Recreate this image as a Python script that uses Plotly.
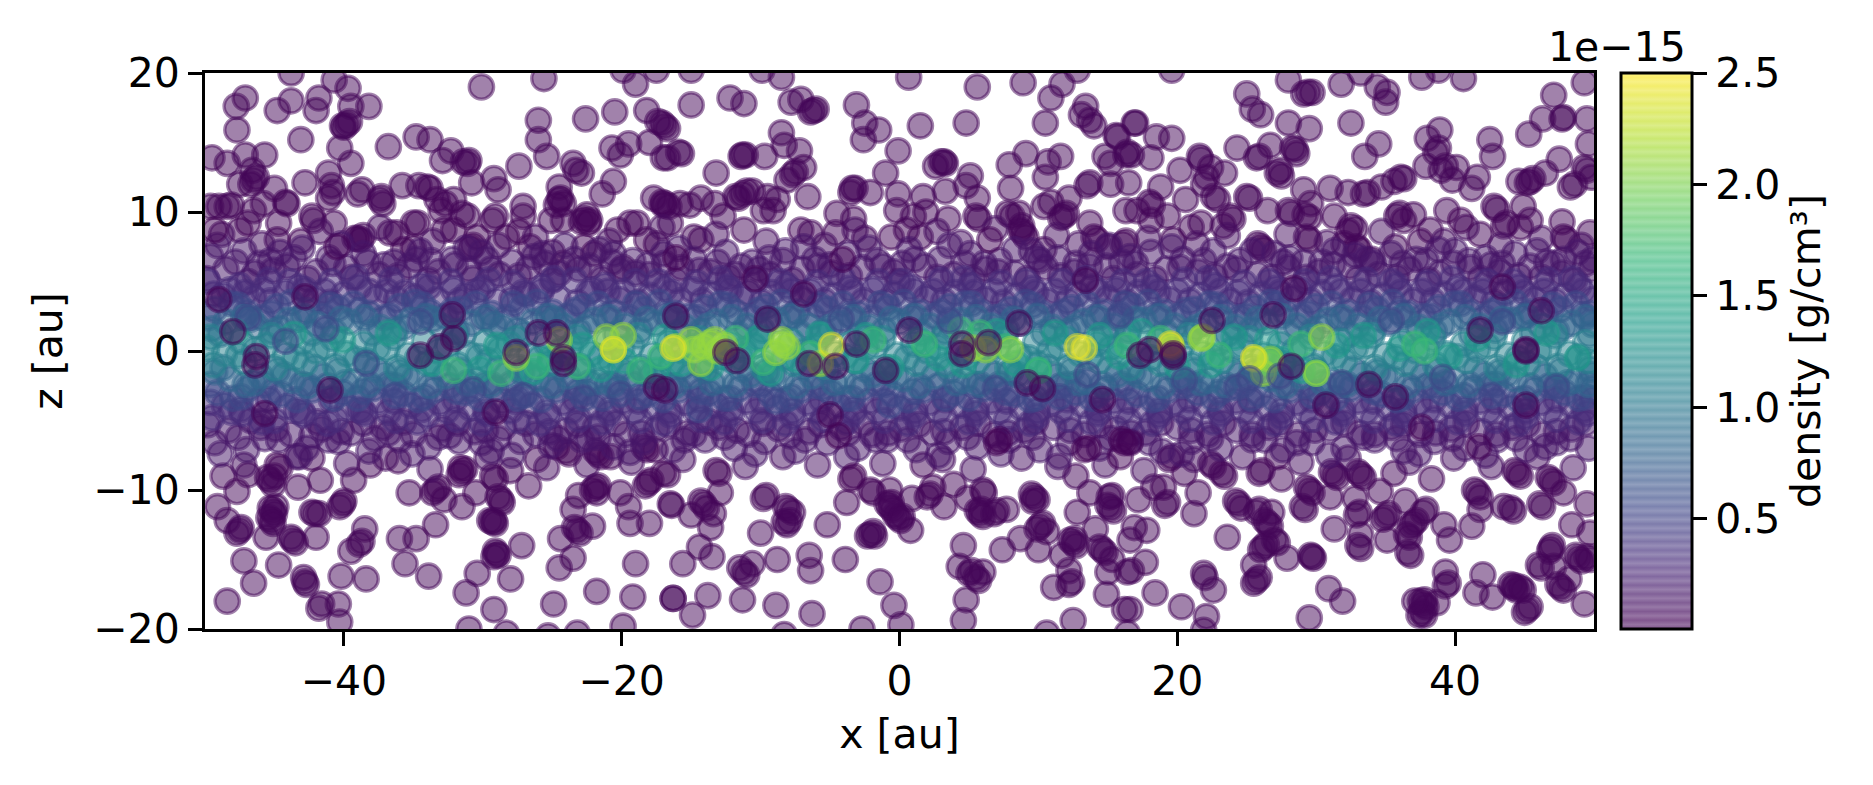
import plotly.graph_objects as go
from plotly.colors import sequential, hex_to_rgb, sample_colorscale, unlabel_rgb

# Particle positions (x, z) in au, grouped by density (units of 1e-15 g/cm3).
halo_upper_left = [(-47.1,18.2),(-47.75,17.6),(-47.7,15.9),(-44.8,17.3),(-43.8,18),(-43.8,20),(-41.8,18.2),(-42,17.3),(-40.7,19.5),(-39.7,18.9),(-38.2,17.6),(-39.5,17.6),(-39.8,16.3),(-40,16.1),(-39.6,16.5),(-40.1,16.2),(-43.1,15.2),(-40.3,14.6),(-36.8,14.7),(-34.8,15.4),(-33.8,15.2),(-30.1,19),(-25.6,19.6),(-19,19.2),(-19.9,20.2),(-17.5,20.2),(-26,16.6),(-22.6,16.7),(-20.5,17.2),(-18.2,17.3),(-17.1,16.4),(-17.4,16.5),(-26,15.2),(-25.4,14),(-27.4,13.3),(-20.7,14.6),(-20.1,14.1),(-19.5,14.9),(-18,15),(-17,13.9),(-23.5,13.5),(-22.9,12.8),(-23.3,13),(-24.5,11.8),(-20.6,12.2),(-21.4,11.3),(-17.7,11),(-17.1,10.7),(-17,10.5),(-32.3,14.4),(-32.9,13.7),(-31.4,13.6),(-31,13.7),(-31.1,13.5),(-29.2,12.4),(-28.9,11.6),(-30.8,12.1),(-49.5,13.9),(-48.4,13.5),(-47.1,14.1),(-45.7,14.1),(-46.6,13),(-46.5,12.3),(-46.7,12),(-46.3,12.5),(-47.5,12),(-42.8,12.1),(-45,11.7),(-44.2,10.7),(-44.1,10.6),(-41.1,12.8),(-39.5,13.5),(-40.9,11.9),(-40.8,11.4),(-41.1,11),(-38.7,11.6),(-39,11.3),(-35.8,11.9),(-34.6,11.9),(-34,11.8),(-33.8,11.7),(-37.3,11.1),(-37.2,10.6),(-37.4,10.9),(-33.3,10.9),(-32.7,10.6),(-33,10.1),(-32.1,10.9),(-31.1,9.7),(-29.3,9.4),(-29.1,9.7),(-27.1,10.4),(-27.1,9.7),(-24.5,10.9),(-24.2,10.6),(-24.7,10.5),(-24.4,11),(-22.7,9.5),(-22.5,9.8),(-22.9,9.3),(-22.4,9.2),(-49,10.4),(-48.4,10.4),(-48.1,10.5),(-49.6,10.4),(-46.5,10.1),(-45.8,10.6),(-44.7,9.2),(-42.2,9.4),(-42.3,9.7),(-40.7,9.2),(-46.9,9.2),(-47.5,8.7),(-38.8,8),(-38.6,8.3),(-39,8.1),(-39.2,8.1),(-43.1,7.9),(-44.8,8),(-36.7,8.5),(-36.2,8.5),(-35.7,7.3),(-35,7.4),(-34.7,9.2),(-35,9.2),(-30.9,7.4),(-30.7,7.6),(-32.8,8.7),(-32.1,8.7),(-31.5,9.9),(-30.4,8.2),(-28.3,8.2),(-27.4,8.6),(-26.6,7.5),(-25,7.1),(-24.2,6.3),(-25.1,9.4),(-24.2,9.4),(-22.3,9.4),(-22,7),(-22.7,7.5),(-20.3,8.7),(-19.4,9.2),(-18.9,9.2),(-18.2,8),(-17.5,7.7),(-19.9,6)]
halo_upper_mid = [(-15,20.2),(-9.9,20.2),(-8.5,19.7),(0.66,19.7),(5.6,19),(8.9,19.3),(11.7,19.2),(12.8,20.2),(-15,17.7),(-12.2,18.2),(-11.2,17.8),(-7.8,17.9),(-7.1,18.1),(-6.2,17.3),(-6,17.4),(-6.4,17.2),(-3.1,17.7),(1.5,16.2),(4.8,16.4),(10.5,16.4),(10.9,18.2),(13.4,17.6),(13.1,17),(13.7,16.6),(14,16.2),(16.9,16.4),(15.6,15.5),(15.7,15.4),(16.3,14.1),(14.8,14),(15.2,13.5),(16.4,14.3),(-16.9,16.2),(-16.7,16),(-15.9,14.3),(-15.7,14.2),(-16.7,13.9),(-11.3,14.1),(-11.1,14.1),(-11.4,14),(-9.7,14),(-8.5,15.7),(-8.3,14.8),(-7.2,14.4),(-6.9,13.2),(-7.7,12.7),(-7.5,12.9),(-8.1,12.3),(-13.2,12.8),(-6.6,11.1),(-2.5,16.4),(-1.5,15.9),(-2.6,15.2),(-0.1,14.4),(-1,12.8),(3.2,13.6),(3,13.6),(3.3,13.5),(2.6,13.3),(5.1,12.6),(4.8,11.9),(3.3,11.5),(5.6,11),(7.9,13.4),(9.1,14.2),(10.7,13.6),(11.6,14),(10.5,12.5),(8,11.7),(13.7,12.1),(13.5,11.9),(15.2,12),(16.5,12.1),(-3.4,11.7),(-3.2,11.7),(-3.5,11.4),(-2.1,11.4),(-0.1,11.3),(1.7,11.1),(-14.3,11),(-15.8,10.6),(-16.9,10.6),(-16.6,10.4),(-15.1,10.5),(-11.8,11.1),(-11,11.5),(-11.6,11),(-11.3,11.3),(-10.6,11.5),(-9.5,11.1),(-8.8,10.9),(-13.3,10.6),(-12.7,9.7),(-9.8,10.1),(-9.1,10.1),(-4.5,9.9),(-3.3,9.5),(-0.2,10.1),(1.9,10),(1,9.7),(3.5,9.5),(5.7,9.5),(5.5,9.7),(7.8,9.9),(8.1,9.7),(8.6,9.9),(8.8,9),(10.4,10.4),(10.9,10.7),(12.2,11),(11.8,9.7),(12,9.9),(11.6,9.6),(13.7,9.2),(16.3,10.1),(17.1,10.1),(-14.8,8.2),(-14.3,8),(-11.2,8.7),(-16.5,9.2),(-7.1,8.7),(-6.4,8.5),(-4.6,8.5),(-2.5,8.1),(-0.6,8.2),(0.5,8.7),(1.5,8.2),(8.9,8.5),(9.1,8.2),(8.7,8.7),(10.4,7.3),(14,8.2),(14.2,8),(16.1,7.7),(16.3,7.9),(15,7.5)]
halo_upper_right = [(19.6,20.2),(25,18.5),(25.4,17.4),(26,17),(28,19.5),(29.1,18.5),(29.4,18.6),(29.7,18.6),(31.8,19.2),(33.2,20),(34.4,19),(35.1,18.6),(35,17.9),(37.6,19.7),(40.6,19.6),(38.8,20.2),(32.5,16.4),(34.5,14.9),(33.5,14),(28,16.4),(29.5,16),(17,16.4),(18.5,15.4),(19.6,15.3),(18.1,13.9),(16.7,14.1),(20.2,13),(21.6,14),(21.7,13.8),(24.3,14.6),(26.7,14.8),(25.7,13.9),(25.9,14),(28.3,14.6),(28.5,14.5),(28.6,14.2),(27.2,12.8),(27.5,12.6),(27.4,13),(22.4,13.2),(23.4,12.8),(22.1,12.5),(38,15.3),(38.9,15.9),(38.8,14.6),(38.6,14.3),(37.9,13.3),(39.3,13.3),(39,13),(40.1,13.2),(42.5,15.2),(42.7,14),(47.1,18.4),(49.3,19.3),(45.3,15.6),(46.3,16.7),(47.8,16.8),(47.7,16.7),(49.5,16.7),(49.6,14.9),(47.5,13.8),(46.5,12.8),(45.4,12.2),(45.6,12.4),(45.2,12.1),(44.6,12.2),(48.3,11.8),(48.6,12),(49.3,13.2),(49.5,13),(49.8,12.5),(36.3,12.4),(36.1,12.5),(35.6,12.2),(41.6,12.5),(41.2,11.7),(39.8,12.3),(34.7,11.8),(33.4,11.3),(33.7,11.4),(32.3,11.4),(31,11.7),(29.1,11.6),(25,11.1),(25.2,11),(22.6,11.1),(21.9,12),(22.9,10.9),(18.8,11.8),(20.6,10.9),(18,10.7),(18.2,10.5),(42.8,10.4),(43,10.2),(44.9,10.4),(37,9.8),(35.8,9.7),(36,9.9),(36.3,9.4),(39.4,10.1),(43.5,9),(43.7,9.2),(45.4,9.4),(47.7,9.3),(29.6,10.6),(28,10.1),(28.2,9.9),(26.5,10.1),(29.2,9.8),(29.5,9.6),(31.3,9.7),(23.8,9.7),(24,9.5),(23.3,9),(21.7,9.2),(21,8.9),(19.3,9.7),(18.1,9.4),(19.7,8),(26,7.5),(25.8,7.7),(26.2,7.3),(29.3,8.2),(29.5,8),(35.7,7.5),(37.5,7.9),(38.2,8.7),(41.8,8.4),(44.7,8.9),(49.7,8.5),(32.5,9),(32.8,8.8),(32.3,8.6),(32.9,7.5),(33.1,7.3),(32,7.7),(34,6.6),(47.8,8.2),(48,8)]
halo_lower_left = [(-48.4,-18),(-46.5,-16.7),(-47.2,-15.1),(-44.7,-15.4),(-42.8,-16.6),(-42.9,-16.3),(-42.7,-16.8),(-41.6,-18.2),(-41.8,-18.5),(-40.4,-18.2),(-40.3,-19.5),(-40.2,-16.2),(-38.4,-16.4),(-39.5,-14.4),(-38.7,-13.7),(-38.9,-13.9),(-38.5,-12.8),(-42,-13.4),(-43.7,-13.6),(-43.8,-13.4),(-43.5,-13.8),(-45.6,-13.4),(-47.5,-12.9),(-47.7,-13.1),(-47.4,-12.7),(-48.4,-12.2),(-45.1,-11.5),(-45.3,-11.3),(-45,-11.7),(-44.9,-11.2),(-45.2,-12.2),(-45.4,-12),(-45.1,-12.4),(-49.1,-11.2),(-47.7,-10.1),(-48.7,-9),(-46.9,-8.9),(-45.3,-9.3),(-45.5,-9.1),(-45.1,-9.6),(-45,-9),(-44.8,-8.2),(-44.6,-8.4),(-43.3,-9.8),(-41.7,-9.3),(-39.3,-9.3),(-38.1,-8.2),(-42.1,-11.7),(-42.3,-11.6),(-41.8,-11.7),(-40.1,-11),(-40.3,-11.2),(-40,-10.8),(-42.3,-7.7),(-36.1,-7.9),(-35.3,-10.2),(-33.4,-10),(-33.6,-10.2),(-33.2,-9.8),(-32.8,-10.7),(-31.5,-11.2),(-33.4,-12.5),(-36,-13.5),(-34.8,-13.5),(-35.6,-15.3),(-33.9,-16.2),(-30.4,-16),(-28,-16.4),(-31.2,-17.4),(-29.2,-18.6),(-31,-20),(-28.3,-20.3),(-27.2,-14),(-29,-14.6),(-29.1,-14.4),(-28.9,-14.7),(-29.2,-14.8),(-29.3,-12.3),(-29.5,-12.2),(-29.1,-12.4),(-29.2,-12.2),(-28.7,-10.7),(-28.9,-10.5),(-28.6,-10.9),(-29.3,-9),(-29.1,-9.2),(-26.7,-9.7),(-28,-8.6),(-31.5,-8.7),(-31.7,-8.9),(-31.3,-8.5),(-31.6,-8.4),(-30.5,-10.2),(-26.1,-7.8),(-24.4,-13.5),(-23.2,-12.9),(-23.4,-12.7),(-23,-13.1),(-22.1,-12.6),(-23.5,-11.4),(-23.5,-14.9),(-24.5,-15.6),(-24.9,-18.2),(-21.8,-17.3),(-19.2,-17.7),(-19,-15.3),(-16.3,-17.8),(-19.9,-19.8),(-23.2,-20.3),(-25.3,-20.5),(-19.4,-12.4),(-18,-12.4),(-19.5,-11.2),(-21.9,-9.8),(-21.7,-9.7),(-22.1,-10),(-21.8,-10.2),(-23.1,-10.4),(-20.1,-10.2),(-18.1,-9.5),(-18.3,-9.7),(-17.9,-9.3),(-16.5,-11),(-17,-8.8),(-24.7,-6.9),(-23.8,-7.4),(-24,-7.2),(-21.7,-7.4),(-21.5,-7.6),(-21.9,-7.2),(-20.8,-7.6),(-18.4,-6.9),(-18.2,-7.1),(-17.6,-7.1)]
halo_lower_mid = [(-16.4,-11.1),(-15,-11.8),(-14.1,-11),(-14.3,-10.8),(-13.9,-11.3),(-13.4,-11.7),(-13.6,-12.7),(-14.4,-14.1),(-13.5,-14.8),(-15.6,-15.3),(-11.5,-15.6),(-10.6,-15.3),(-11,-16.1),(-11.2,-15.9),(-8.8,-15),(-6.5,-14.7),(-6.4,-15.8),(-3.9,-15),(-1.4,-16.6),(-0.4,-18.3),(0.1,-19.7),(-2.7,-20),(-6.3,-18.9),(-8.9,-18.3),(-11.3,-17.9),(-13.8,-17.6),(-16.3,-17.8),(-14.9,-19),(-8.3,-20.4),(-10,-13.1),(-5.2,-12.5),(-8.1,-12.5),(-8.3,-12.3),(-7.9,-12.2),(-8,-11.4),(-8.2,-11.2),(-7.7,-11.6),(-9.8,-10.6),(-9.6,-10.4),(-12.9,-10.2),(-13,-8.8),(-13.2,-8.6),(-16.7,-8.9),(-3.8,-10.9),(-2.1,-13.2),(-2.3,-13.3),(-1.9,-13),(-1.8,-13.3),(-0.7,-11.2),(-0.9,-11),(-0.5,-11.4),(-0.6,-10.9),(-0.1,-12),(-0.3,-11.8),(0.1,-12.2),(0.2,-11.9),(0.8,-12.9),(-2.1,-10),(-1.9,-10.2),(-0.7,-10),(0.9,-10.6),(1.7,-8.2),(2,-10.5),(2.2,-10.3),(3.2,-11.2),(2.4,-9.8),(3.9,-9.6),(4.9,-10.6),(6,-10),(5.8,-11.7),(5.6,-11.5),(6,-11.9),(5.9,-11.4),(6.8,-11.7),(7,-11.5),(7.7,-11.4),(9.7,-10.5),(9.5,-10.3),(9.9,-10.7),(9.6,-10.8),(7.4,-14.3),(8.7,-13.5),(10.1,-12.6),(10.3,-12.4),(9.9,-12.8),(10,-14.3),(10.6,-13),(11.7,-14.7),(12.5,-13.8),(12.3,-13.6),(12.7,-14),(12.6,-13.5),(12.8,-11.6),(14.1,-12.8),(14.6,-14.3),(14.4,-14.1),(14.8,-14.5),(15.3,-15),(15,-15.9),(16.4,-15.9),(16.6,-13.6),(12.2,-15.8),(12.2,-16.8),(12.4,-16.6),(11.1,-17),(14.9,-17.5),(16.2,-18.6),(12.5,-19.4),(16.4,-20.3),(10.6,-20.3),(4.6,-14),(4.3,-15.5),(5,-16),(5.2,-15.8),(6,-15.9),(5.7,-16.5),(5.5,-16.3),(4.8,-17.9),(4.6,-19.4),(13.7,-10.2),(15.2,-11.3),(15,-11.1),(15.4,-11.5),(15.1,-10.5),(15.3,-10.4),(12.7,-9),(6.1,-10.2)]
halo_lower_right = [(18.4,-17.4),(20.3,-18.4),(22.1,-19.1),(21.9,-20.1),(21.9,-16),(22,-16.3),(22.6,-17.2),(23.6,-13.4),(17.7,-15.2),(16.6,-18.6),(16.7,-15.8),(17.8,-12.9),(16.9,-12.7),(25.7,-16.5),(25.5,-16.7),(25.9,-16.3),(25.5,-15.4),(26.2,-14.1),(26,-14.3),(26.4,-13.9),(27.2,-13.8),(27,-13.6),(27.9,-14.9),(29.7,-14.8),(29.6,-14.7),(29.8,-14.9),(30.9,-17.1),(31.9,-18),(29.5,-19.2),(26.5,-12.4),(26.3,-12.2),(26.7,-12.6),(25.7,-11.6),(25.9,-11.4),(26.8,-11.6),(19.1,-11.1),(19.3,-10.9),(21.2,-11.7),(21.5,-10.2),(17.2,-10.7),(18.3,-9.8),(24.4,-11),(24.2,-10.8),(24.6,-11.3),(31.3,-12.8),(33.2,-14.2),(33,-14),(33.2,-13.2),(35.1,-13.6),(36.8,-14.7),(36.6,-14.5),(36.7,-13.4),(36.5,-13.2),(32.9,-11.8),(33.1,-11.6),(32.8,-10.6),(35,-11.9),(35.2,-11.7),(34.8,-12.1),(34.6,-10.1),(36.4,-10.8),(37,-12.4),(37.2,-12.2),(36.8,-12.6),(37.7,-11.6),(37.9,-11.4),(39.2,-12.5),(39.6,-13.6),(41.2,-12.6),(39.3,-15.9),(39.3,-16.9),(39.5,-16.7),(37.7,-18.2),(37.5,-18),(37.9,-18.4),(37.8,-17.9),(37.6,-18.8),(37.4,-19),(37.8,-19),(38.7,-18.1),(37.1,-18),(41.5,-17.4),(42,-16.1),(42.7,-17.7),(44.2,-17),(44,-16.8),(44.4,-17.2),(44.3,-16.9),(44.7,-17),(44.9,-17.2),(45.2,-18.6),(45,-18.8),(45.4,-18.4),(46,-15.4),(46.2,-15.6),(46.9,-14.2),(46.8,-14.4),(47,-14),(47.1,-15.5),(47.6,-17),(47.4,-16.8),(47.8,-17.2),(48.2,-16.4),(49.3,-18.2),(48.9,-14.9),(48.7,-14.7),(49.1,-15.1),(49.7,-15),(49.5,-14.8),(48.4,-12.5),(49.7,-13.1),(44,-11.3),(44.2,-11.5),(46.3,-11.2),(46.1,-11),(43.5,-11.2),(41.6,-10.2),(41.4,-10),(41.8,-10.5),(41.8,-11.4),(47.8,-10.2),(46.9,-9.3),(46.7,-9.1),(47.1,-9.5),(49.5,-11),(44.5,-8.8),(44.3,-8.6),(44.7,-9),(38.3,-9.2),(35.6,-8.8),(31.3,-8.9),(31.1,-8.7),(31.5,-9.1),(33.2,-8.9),(33,-8.7),(33.4,-9.1),(29.5,-10),(29.3,-9.8),(29.7,-10.2),(31,-10.5),(29.2,-11.4),(29,-11.2),(27.5,-9.2),(25.9,-8.8),(26.1,-8.6),(23.4,-9),(23.2,-8.8),(22.6,-8.3),(22.4,-8.1),(19,-9.8),(19.4,-7.8),(19.6,-7.6),(20.5,-8.8),(27.2,-7.6)]
halo_density = 0.03

outer_rim = [(-48.8,8.4),(-45.9,7.7),(-41.7,8.6),(-37.4,8.9),(-33.6,7.9),(-28.9,7.6),(-26.2,8.2),(-20.9,7.9),(-17.1,8.9),(-13.2,8.4),(-9.6,7.9),(-5.4,7.6),(-3.2,8.7),(2.7,8.6),(4.4,7.8),(6.9,8.8),(11.3,8.3),(12.9,7.7),(17.9,8.1),(21.4,7.7),(23.6,8.3),(27.9,8.4),(30.8,7.8),(34.7,8.6),(39.2,7.9),(40.8,8.9),(43.3,7.6),(46.2,8.1),(49.1,7.6),
(-47.2,-8.2),(-43.4,-7.6),(-39.8,-8.1),(-37,-7.7),(-33.8,-8.5),(-29.7,-7.7),(-25.4,-8.4),(-22.5,-8.2),(-19.3,-8),(-15.6,-7.8),(-11.1,-8.3),(-8.4,-7.6),(-5.9,-8.2),(-1.2,-8.1),(3.1,-7.8),(5.3,-8.5),(8.8,-7.7),(11.4,-8.3),(14.8,-8.2),(17.6,-8.6),(21.2,-7.8),(24.7,-7.6),(28.9,-8),(32.3,-7.7),(36.7,-8),(39.9,-7.7),(42.6,-8.3),(45.9,-7.6),(48.5,-8.4)]
outer_rim_density = 0.09

upper_rim = [(-49.6,6.8),(-47.2,7.2),(-45.3,6.5),(-43,7.4),(-41.1,6.7),(-38.6,7),(-36.4,6.4),(-34.5,7.2),(-32.2,6.6),(-30.1,7.1),(-27.9,6.4),(-25.7,7),(-23.4,6.6),(-21.6,7.3),(-19.2,6.5),(-17,7),(-14.8,6.6),(-12.5,7.1),(-10.6,6.4),(-8.2,7.2),(-6.1,6.6),(-3.7,7),(-1.6,6.5),(0.7,7.3),(2.9,6.6),(5.1,7),(7.2,6.5),(9.5,7.2),(11.4,6.7),(13.8,7),(16,6.4),(18.1,7.1),(20.4,6.6),(22.6,7.2),(24.5,6.5),(27,7),(29.1,6.4),(31.3,7.2),(33.6,6.6),(35.4,7),(37.9,6.5),(40,7.2),(42.2,6.7),(44.3,7),(46.6,6.4),(48.8,7.1),
(-48.5,5.9),(-46.4,5.6),(-44.1,6.1),(-42,5.7),(-39.8,6),(-37.5,5.5),(-35.3,6.1),(-33.2,5.7),(-31,5.9),(-28.8,5.5),(-26.7,6),(-24.5,5.6),(-22.3,6.1),(-20.1,5.8),(-18,5.5),(-15.7,6),(-13.6,5.7),(-11.4,6.1),(-9.3,5.5),(-7,5.9),(-4.9,5.6),(-2.7,6),(-0.4,5.7),(1.8,6.1),(3.9,5.5),(6.2,5.9),(8.3,5.6),(10.5,6),(12.6,5.7),(14.9,6.1),(17.1,5.5),(19.2,5.9),(21.5,5.7),(23.6,6.1),(25.8,5.5),(28,6),(30.2,5.7),(32.4,6.1),(34.5,5.5),(36.7,5.9),(38.9,5.6),(41.1,6),(43.2,5.7),(45.4,6.1),(47.7,5.6),(49.8,5.9),
(-49.1,7.6),(-46.1,6.3),(-44.6,7.1),(-40.2,7.7),(-37.1,6.2),(-33.7,6.5),(-31.2,7.4),(-29.4,5.9),(-26.3,6.8),(-24.1,7.6),(-20.7,6.4),(-18.1,6.2),(-15.9,7.4),(-13.1,6.4),(-11.8,5.5),(-9.4,6.7),(-6.9,7.5),(-5,6.2),(-2.2,7.4),(0.2,6.3),(3.6,7.6),(6.1,6.3),(8.3,7.3),(10.1,6.5),(12.7,6.3),(15.1,7.6),(17,6.3),(19.6,7.5),(21.9,6.5),(25.4,7.2),(28.1,6.7),(30.4,6.4),(32.8,6.9),(36.2,6.3),(38.8,7.3),(41,6.5),(43.4,6.3),(45.9,7.2),(47.8,6.6),(49.4,6.3),
(-49.9,5.2),(-47.8,6.4),(-46.9,5),(-45.1,5.8),(-43.6,6.7),(-42.6,5.2),(-40.8,6.3),(-39.4,5.3),(-38.3,6.4),(-36.1,5.4),(-34.8,6.6),(-33.9,5.1),(-32,6.2),(-30.7,5.2),(-29.7,6.6),(-27.4,5.4),(-25.5,6.3),(-25,5.1),(-23.1,5.9),(-21.4,5.2),(-20.6,7),(-19,5.6),(-16.9,6.3),(-16.1,5.1),(-14.4,5.8),(-12.3,5.3),(-10.1,5.9),(-8.4,6.5),(-7.7,5.1),(-5.8,6.1),(-3.6,5.4),(-1.2,6.1),(-0.1,5),(1.1,6.6),(2.7,5.3),(4.7,6.3),(5.3,5.2),(7.1,5.7),(9.2,5.2),(9.9,6.7),(11.6,5.4),(13.7,6.1),(15.4,5.2),(16.6,6.8),(18.4,5.2),(20.2,6),(22.7,5.4),(24.2,5.9),(26.8,5.3),(27.6,6.4),(29.3,5.3),(31.2,6.2),(33,5.2),(34.1,6.3),(35.8,5.3),(37.2,6.6),(38.1,5.1),(39.9,6.3),(41.8,5.2),(42.6,6.2),(44.6,5.4),(46.2,5.3),(47.1,6.3),(48.6,5.1),(49.9,6.6)]
lower_rim = [(-49.3,-6.6),(-47,-7.1),(-44.7,-6.4),(-42.7,-7),(-40.4,-6.5),(-38.2,-7.2),(-36,-6.4),(-33.9,-6.9),(-31.7,-6.5),(-29.4,-7.2),(-27.3,-6.5),(-25.1,-6.8),(-22.9,-6.4),(-20.6,-6.9),(-18.4,-6.5),(-16.3,-7.1),(-14,-6.4),(-11.9,-7),(-9.7,-6.5),(-7.5,-7.2),(-5.2,-6.6),(-3,-7),(-0.9,-6.4),(1.2,-7.1),(3.5,-6.5),(5.6,-6.9),(7.9,-6.4),(10.1,-7.1),(12.2,-6.6),(14.4,-7),(16.6,-6.5),(18.9,-7.2),(21,-6.5),(23.1,-7),(25.4,-6.4),(27.6,-7.1),(29.7,-6.6),(32,-7),(34.2,-6.4),(36.3,-7.2),(38.5,-6.5),(40.7,-7),(43,-6.4),(45.1,-7.1),(47.3,-6.6),(49.6,-7),
(-48.3,-5.7),(-46,-5.5),(-43.8,-6),(-41.6,-5.6),(-39.5,-5.9),(-37.2,-5.5),(-35,-6),(-32.9,-5.6),(-30.6,-5.8),(-28.5,-5.5),(-26.2,-6),(-24,-5.7),(-21.9,-5.5),(-19.7,-6),(-17.5,-5.6),(-15.3,-5.9),(-13,-5.5),(-10.9,-6),(-8.7,-5.6),(-6.5,-5.8),(-4.2,-5.5),(-2,-6),(0.1,-5.6),(2.4,-5.9),(4.5,-5.5),(6.8,-6),(9,-5.7),(11.1,-5.5),(13.3,-6),(15.6,-5.6),(17.7,-5.9),(20,-5.5),(22.2,-6),(24.3,-5.7),(26.6,-5.5),(28.7,-6),(31,-5.6),(33.1,-5.9),(35.4,-5.5),(37.5,-6),(39.7,-5.6),(41.9,-5.8),(44.1,-5.5),(46.3,-6),(48.4,-5.6),
(-48.9,-7.4),(-45.7,-6.3),(-43.2,-7.6),(-41.1,-6.4),(-37.8,-6.3),(-35.1,-7.4),(-32.4,-6.1),(-30.1,-6.6),(-27.9,-7.5),(-24.6,-6.3),(-21.7,-6.2),(-19.4,-7.3),(-15.5,-6.4),(-12.6,-6.2),(-10.4,-7.4),(-6.8,-6.4),(-3.8,-7.6),(-1.7,-6.4),(0.6,-6.4),(2.8,-7.5),(4.9,-6.2),(7.3,-7.4),(9.6,-6.2),(11.5,-7.6),(15.2,-6.3),(18,-6.6),(20.3,-7.4),(22.4,-6.3),(26.3,-6.4),(28.6,-6.6),(30.9,-7.5),(33.4,-6.2),(35.8,-6.3),(37.4,-7.4),(39.8,-6.3),(42.2,-7.5),(44.4,-6.3),(46.5,-6.9),(48.3,-6.3),
(-49.8,-5.3),(-47.6,-6.2),(-46.7,-5),(-44.9,-5.6),(-42.3,-6.1),(-41.9,-5.1),(-40.2,-5.8),(-38.6,-5.2),(-36.8,-5.9),(-35.7,-5.1),(-33.2,-6.2),(-31.8,-5.2),(-29.8,-5.7),(-28.9,-6.3),(-26.9,-5.2),(-25.2,-5.8),(-23.2,-5.3),(-22.4,-6.3),(-20.4,-5.2),(-18.6,-5.9),(-16.6,-5.3),(-14.8,-6),(-13.7,-5.1),(-11.7,-5.7),(-9.8,-5.2),(-7.9,-6.1),(-5.7,-5.3),(-3.7,-5.9),(-2.6,-5.2),(-0.8,-5.9),(1.4,-5.3),(3.2,-5.8),(5.7,-5.2),(7.8,-5.9),(9.8,-5.1),(12.3,-5.7),(14.4,-5.3),(16.7,-5.9),(18.8,-5.2),(21,-5.7),(23.3,-5.2),(25.4,-6),(27.4,-5.2),(29.9,-5.7),(32,-5.2),(34.2,-6),(36.3,-5.3),(38.6,-5.9),(40.8,-5.2),(43,-6),(45.2,-5.3),(47.3,-5.8),(49.4,-5.2)]
rim_density = 0.15

upper_shell = [(-49.8,5),(-47.5,4.7),(-45.4,5.1),(-43.2,4.6),(-40.9,5),(-38.9,4.6),(-36.6,5.1),(-34.4,4.7),(-32.3,5),(-30,4.5),(-27.8,4.9),(-25.7,4.6),(-23.4,5.1),(-21.2,4.7),(-19,5),(-16.9,4.5),(-14.6,4.9),(-12.4,4.6),(-10.3,5.1),(-8.1,4.7),(-5.9,4.9),(-3.6,4.5),(-1.5,5),(0.8,4.6),(3,5.1),(5.1,4.7),(7.3,4.9),(9.6,4.5),(11.7,5),(13.9,4.6),(16.1,5),(18.3,4.6),(20.5,5.1),(22.7,4.7),(24.8,4.9),(27.1,4.5),(29.2,5),(31.4,4.6),(33.6,5.1),(35.8,4.7),(38,4.9),(40.2,4.5),(42.3,5),(44.6,4.6),(46.7,5.1),(48.9,4.7),
(-48.7,4),(-46.5,3.8),(-44.2,4.2),(-42.1,3.7),(-40,4.1),(-37.7,3.8),(-35.6,4.2),(-33.3,3.7),(-31.2,4),(-29,3.6),(-26.8,4.1),(-24.6,3.8),(-22.4,4.2),(-20.2,3.7),(-18,4),(-15.8,3.6),(-13.6,4.1),(-11.4,3.8),(-9.2,4.2),(-7,3.7),(-4.8,4),(-2.6,3.6),(-0.4,4.1),(1.9,3.8),(4,4.2),(6.2,3.7),(8.4,4),(10.6,3.6),(12.8,4.1),(15,3.8),(17.2,4.2),(19.4,3.7),(21.6,4),(23.8,3.6),(26,4.1),(28.2,3.8),(30.4,4.2),(32.6,3.7),(34.8,4),(37,3.6),(39.2,4.1),(41.4,3.8),(43.6,4.2),(45.7,3.7),(47.9,4),(49.9,3.7),
(-48.2,4.4),(-45.8,4.4),(-43.9,5),(-41.4,4.3),(-39.1,5.3),(-36.9,4.3),(-34.9,3.9),(-32.1,4.4),(-29.6,5.1),(-27.1,4.2),(-24.9,5.2),(-22.1,4.4),(-19.9,4.3),(-17.4,5),(-14.9,4.4),(-12.9,5.2),(-10.9,4.2),(-8.6,5),(-6.4,4.3),(-4.1,5.2),(-1.9,4.4),(0.2,5),(2.4,4.3),(4.6,5.2),(6.8,4.3),(9.1,5),(11.2,4.3),(13.4,5.2),(15.6,4.4),(17.8,5),(20,4.3),(22.2,5.2),(24.4,4.2),(26.6,5),(28.8,4.4),(31,5.2),(33.2,4.3),(35.4,5),(37.6,4.3),(39.8,5.2),(42,4.3),(44.2,5),(46.4,4.3),(48.4,5.2),
(-49.4,4.1),(-47.1,4.2),(-45.3,3.6),(-42.8,4.4),(-41,3.5),(-38.2,4.3),(-36.2,3.7),(-33.9,4.6),(-31.7,3.6),(-30.4,4.3),(-27.9,3.7),(-25.8,4.3),(-23.2,3.5),(-21,4.3),(-18.8,3.5),(-16.4,4.2),(-14.2,3.6),(-12.2,4.4),(-9.9,3.5),(-7.8,4.3),(-5.4,3.6),(-3.3,4.2),(-1,3.5),(1.1,4.3),(3.2,3.6),(5.4,4.2),(7.5,3.5),(9.8,4.2),(12.1,3.6),(14.3,4.3),(16.4,3.5),(18.6,4.2),(20.9,3.6),(23.1,4.3),(25.1,3.5),(27.4,4.2),(29.6,3.6),(31.8,4.3),(33.9,3.5),(36.1,4.2),(38.4,3.6),(40.6,4.3),(42.8,3.5),(45,4.2),(47.2,3.6),(49.2,4.3)]
lower_shell = [(-49.5,-4.8),(-47.3,-4.5),(-45,-5),(-42.9,-4.6),(-40.6,-4.9),(-38.5,-4.5),(-36.3,-5),(-34,-4.6),(-31.9,-4.9),(-29.7,-4.5),(-27.5,-5),(-25.3,-4.7),(-23.1,-4.9),(-20.9,-4.5),(-18.7,-5),(-16.5,-4.6),(-14.3,-4.9),(-12.1,-4.5),(-9.9,-5),(-7.7,-4.7),(-5.5,-4.9),(-3.3,-4.5),(-1.1,-5),(1.1,-4.6),(3.3,-4.9),(5.5,-4.5),(7.7,-5),(9.9,-4.7),(12.1,-4.9),(14.3,-4.5),(16.5,-5),(18.7,-4.6),(20.9,-4.9),(23.1,-4.5),(25.3,-5),(27.5,-4.7),(29.7,-4.9),(31.9,-4.5),(34.1,-5),(36.3,-4.6),(38.5,-4.9),(40.7,-4.5),(42.9,-5),(45.1,-4.7),(47.3,-4.9),(49.5,-4.5),
(-48.6,-3.9),(-46.2,-3.6),(-44.1,-4),(-41.8,-3.7),(-39.7,-4.1),(-37.5,-3.6),(-35.2,-3.9),(-33.1,-3.7),(-30.9,-4.1),(-28.6,-3.6),(-26.5,-3.9),(-24.2,-3.7),(-22,-4),(-19.9,-3.6),(-17.7,-4.1),(-15.4,-3.7),(-13.2,-3.9),(-11,-3.6),(-8.8,-4.1),(-6.6,-3.7),(-4.4,-3.9),(-2.2,-3.6),(0,-4.1),(2.2,-3.7),(4.4,-3.9),(6.6,-3.6),(8.8,-4.1),(11,-3.7),(13.2,-3.9),(15.4,-3.6),(17.6,-4.1),(19.8,-3.7),(22,-3.9),(24.2,-3.6),(26.4,-4.1),(28.6,-3.7),(30.8,-3.9),(33,-3.6),(35.2,-4.1),(37.4,-3.7),(39.6,-3.9),(41.8,-3.6),(44,-4.1),(46.2,-3.7),(48.4,-3.9),(49.9,-3.5),
(-48.1,-4.4),(-45.9,-5.1),(-43.4,-4.3),(-41.2,-5.2),(-38.9,-4.2),(-36.8,-4.4),(-34.7,-5.1),(-32.6,-4.3),(-30.1,-5.2),(-28,-4.3),(-25.9,-5.2),(-23.6,-4.3),(-21.4,-5.1),(-19.1,-4.3),(-17,-5.2),(-14.7,-4.3),(-12.6,-5.1),(-10.3,-4.3),(-8.2,-5.2),(-6,-4.3),(-3.8,-5.1),(-1.6,-4.3),(0.6,-5.2),(2.8,-4.3),(5,-5.1),(7.2,-4.3),(9.4,-5.2),(11.6,-4.3),(13.8,-5.1),(16,-4.3),(18.2,-5.2),(20.4,-4.3),(22.6,-5.1),(24.8,-4.3),(27,-5.2),(29.2,-4.3),(31.4,-5.1),(33.6,-4.3),(35.8,-5.2),(38,-4.3),(40.2,-5.1),(42.4,-4.3),(44.6,-5.2),(46.8,-4.3),(48.9,-5.1),
(-49.6,-3.7),(-47.4,-4.2),(-45.4,-3.5),(-43,-4.4),(-40.9,-3.5),(-38.7,-4.3),(-36.4,-3.6),(-34.4,-4.2),(-32,-3.5),(-29.8,-4.3),(-27.7,-3.6),(-25.4,-4.4),(-23.3,-3.5),(-20.9,-4.2),(-18.8,-3.6),(-16.6,-4.3),(-14.4,-3.5),(-12.2,-4.2),(-9.9,-3.6),(-7.7,-4.3),(-5.6,-3.5),(-3.3,-4.2),(-1.1,-3.6),(1.1,-4.3),(3.3,-3.5),(5.5,-4.2),(7.7,-3.6),(9.9,-4.3),(12.1,-3.5),(14.3,-4.2),(16.5,-3.6),(18.7,-4.3),(20.9,-3.5),(23.1,-4.2),(25.3,-3.6),(27.5,-4.3),(29.7,-3.5),(31.9,-4.2),(34.1,-3.6),(36.3,-4.3),(38.5,-3.5),(40.7,-4.2),(42.9,-3.6),(45.1,-4.3),(47.3,-3.5),(49.3,-4.2)]
shell_density = 0.32

upper_slope = [(-49.3,3),(-47,2.8),(-44.8,3.2),(-42.7,2.9),(-40.4,3.1),(-38.2,2.7),(-36,3.2),(-33.8,2.8),(-31.6,3),(-29.4,2.7),(-27.2,3.1),(-25,2.8),(-22.8,3.2),(-20.6,2.8),(-18.4,3),(-16.2,2.7),(-14,3.1),(-11.8,2.8),(-9.6,3.2),(-7.4,2.8),(-5.2,3),(-3,2.7),(-0.8,3.1),(1.4,2.8),(3.6,3.2),(5.8,2.8),(8,3),(10.2,2.7),(12.4,3.1),(14.6,2.8),(16.8,3.2),(19,2.8),(21.2,3),(23.4,2.7),(25.6,3.1),(27.8,2.8),(30,3.2),(32.2,2.8),(34.4,3),(36.6,2.7),(38.8,3.1),(41,2.8),(43.2,3.2),(45.4,2.8),(47.6,3),(49.8,2.7),
(-48.1,3.4),(-45.9,2.4),(-43.8,3.5),(-41.5,2.5),(-39.3,3.4),(-37.1,2.4),(-34.9,3.5),(-32.7,2.5),(-30.5,3.4),(-28.3,2.4),(-26.1,3.5),(-23.9,2.5),(-21.7,3.4),(-19.5,2.4),(-17.3,3.5),(-15.1,2.5),(-12.9,3.4),(-10.7,2.4),(-8.5,3.5),(-6.3,2.5),(-4.1,3.4),(-1.9,2.4),(0.3,3.5),(2.5,2.5),(4.7,3.4),(6.9,2.4),(9.1,3.5),(11.3,2.5),(13.5,3.4),(15.7,2.4),(17.9,3.5),(20.1,2.5),(22.3,3.4),(24.5,2.4),(26.7,3.5),(28.9,2.5),(31.1,3.4),(33.3,2.4),(35.5,3.5),(37.7,2.5),(39.9,3.4),(42.1,2.4),(44.3,3.5),(46.5,2.5),(48.7,3.4),
(-49.8,2.4),(-47.6,3.3),(-45.2,2.7),(-43.3,2.3),(-41,3.3),(-38.9,2.9),(-36.7,2.5),(-34.3,3.3),(-32.2,2.9),(-30,2.4),(-27.8,3.4),(-25.6,2.4),(-23.4,2.9),(-21.2,2.5),(-19,3.4),(-16.8,2.6),(-14.6,2.4),(-12.4,3.3),(-10.2,2.9),(-8,2.4),(-5.8,3.3),(-3.6,2.6),(-1.4,3.4),(0.8,2.4),(3,2.8),(5.2,3.4),(7.4,2.5),(9.6,3.3),(11.8,2.8),(14,2.4),(16.2,3.4),(18.4,2.5),(20.6,2.9),(22.8,3.3),(25,2.5),(27.2,3.4),(29.4,2.7),(31.6,2.4),(33.8,3.3),(36,2.8),(38.2,2.5),(40.4,3.4),(42.6,2.8),(44.8,2.4),(47,3.3),(49.2,2.6)]
lower_slope = [(-49.1,-3),(-46.9,-2.7),(-44.5,-3.1),(-42.3,-2.8),(-40.1,-3),(-37.9,-2.7),(-35.7,-3.1),(-33.5,-2.8),(-31.3,-3),(-29.1,-2.7),(-26.9,-3.1),(-24.7,-2.8),(-22.5,-3),(-20.3,-2.7),(-18.1,-3.1),(-15.9,-2.8),(-13.7,-3),(-11.5,-2.7),(-9.3,-3.1),(-7.1,-2.8),(-4.9,-3),(-2.7,-2.7),(-0.5,-3.1),(1.7,-2.8),(3.9,-3),(6.1,-2.7),(8.3,-3.1),(10.5,-2.8),(12.7,-3),(14.9,-2.7),(17.1,-3.1),(19.3,-2.8),(21.5,-3),(23.7,-2.7),(25.9,-3.1),(28.1,-2.8),(30.3,-3),(32.5,-2.7),(34.7,-3.1),(36.9,-2.8),(39.1,-3),(41.3,-2.7),(43.5,-3.1),(45.7,-2.8),(47.9,-3),(49.9,-2.7),
(-48,-3.4),(-45.7,-2.4),(-43.4,-3.5),(-41.2,-2.5),(-39,-3.4),(-36.8,-2.4),(-34.6,-3.5),(-32.4,-2.5),(-30.2,-3.4),(-28,-2.4),(-25.8,-3.5),(-23.6,-2.5),(-21.4,-3.4),(-19.2,-2.4),(-17,-3.5),(-14.8,-2.5),(-12.6,-3.4),(-10.4,-2.4),(-8.2,-3.5),(-6,-2.5),(-3.8,-3.4),(-1.6,-2.4),(0.6,-3.5),(2.8,-2.5),(5,-3.4),(7.2,-2.4),(9.4,-3.5),(11.6,-2.5),(13.8,-3.4),(16,-2.4),(18.2,-3.5),(20.4,-2.5),(22.6,-3.4),(24.8,-2.4),(27,-3.5),(29.2,-2.5),(31.4,-3.4),(33.6,-2.4),(35.8,-3.5),(38,-2.5),(40.2,-3.4),(42.4,-2.4),(44.6,-3.5),(46.8,-2.5),(48.9,-3.4),
(-49.6,-2.4),(-47.4,-3.3),(-45.1,-2.9),(-43,-2.4),(-40.7,-3.4),(-38.6,-2.9),(-36.3,-2.5),(-34.2,-3.3),(-31.9,-2.9),(-29.8,-2.4),(-27.5,-3.4),(-25.4,-2.5),(-23.1,-2.9),(-21,-2.4),(-18.7,-3.3),(-16.6,-2.5),(-14.3,-2.9),(-12.2,-3.4),(-9.9,-2.4),(-7.8,-3.3),(-5.5,-2.6),(-3.4,-3.4),(-1.1,-2.4),(1,-2.9),(3.3,-3.4),(5.4,-2.4),(7.7,-3),(9.8,-3.4),(12.1,-2.4),(14.2,-3.2),(16.5,-2.6),(18.6,-3.4),(20.9,-2.4),(23,-3),(25.3,-3.4),(27.4,-2.5),(29.7,-3.2),(31.8,-2.4),(34.1,-2.9),(36.2,-3.4),(38.5,-2.5),(40.6,-3.2),(42.9,-2.4),(45,-3.4),(47.3,-2.5),(49.4,-3.3)]
slope_density = 0.55

upper_flank = [(-48.5,2.1),(-46.3,1.8),(-44,2.2),(-41.9,1.9),(-39.6,2.1),(-37.4,1.7),(-35.2,2.2),(-33,1.8),(-30.8,2),(-28.6,1.7),(-26.4,2.1),(-24.2,1.8),(-22,2.2),(-19.8,1.8),(-17.6,2),(-15.4,1.7),(-13.2,2.1),(-11,1.8),(-8.8,2.2),(-6.6,1.8),(-4.4,2),(-2.2,1.7),(0,2.1),(2.2,1.8),(4.4,2.2),(6.6,1.8),(8.8,2),(11,1.7),(13.2,2.1),(15.4,1.8),(17.6,2.2),(19.8,1.8),(22,2),(24.2,1.7),(26.4,2.1),(28.6,1.8),(30.8,2.2),(33,1.8),(35.2,2),(37.4,1.7),(39.6,2.1),(41.8,1.8),(44,2.2),(46.2,1.8),(48.4,2),(49.9,1.9),
(-49.5,1.6),(-47.2,2.4),(-45.1,1.4),(-42.9,2.5),(-40.7,1.4),(-38.5,2.4),(-36.3,1.5),(-34.1,2.5),(-31.9,1.4),(-29.7,2.4),(-27.5,1.5),(-25.3,2.5),(-23.1,1.4),(-20.9,2.4),(-18.7,1.5),(-16.5,2.5),(-14.3,1.4),(-12.1,2.4),(-9.9,1.5),(-7.7,2.5),(-5.5,1.4),(-3.3,2.4),(-1.1,1.5),(1.1,2.5),(3.3,1.4),(5.5,2.4),(7.7,1.5),(9.9,2.5),(12.1,1.4),(14.3,2.4),(16.5,1.5),(18.7,2.5),(20.9,1.4),(23.1,2.4),(25.3,1.5),(27.5,2.5),(29.7,1.4),(31.9,2.4),(34.1,1.5),(36.3,2.5),(38.5,1.4),(40.7,2.4),(42.9,1.5),(45.1,2.5),(47.3,1.4),(49.4,2.4),
(-48.9,1.2),(-46.7,2.3),(-44.6,1.6),(-42.3,1.3),(-40.2,2.3),(-38,1.3),(-35.7,1.7),(-33.6,2.3),(-31.4,1.2),(-29.2,1.9),(-27,1.2),(-24.8,2.3),(-22.6,1.7),(-20.4,1.2),(-18.2,2.3),(-16,1.3),(-13.8,1.8),(-11.6,1.2),(-9.4,2.3),(-7.2,1.3),(-5,1.7),(-2.8,1.2),(-0.6,2.3),(1.6,1.3),(3.8,1.8),(6,1.2),(8.2,2.3),(10.4,1.3),(12.6,1.7),(14.8,1.2),(17,2.3),(19.2,1.3),(21.4,1.7),(23.6,1.2),(25.8,2.3),(28,1.3),(30.2,1.7),(32.4,1.2),(34.6,2.3),(36.8,1.3),(39,1.8),(41.2,1.2),(43.4,2.3),(45.6,1.3),(47.8,1.7),(49.7,1.2)]
lower_flank = [(-48.2,-2),(-46,-1.8),(-43.7,-2.1),(-41.5,-1.8),(-39.3,-2.2),(-37.1,-1.7),(-34.9,-2),(-32.7,-1.8),(-30.5,-2.1),(-28.3,-1.7),(-26.1,-2),(-23.9,-1.8),(-21.7,-2.2),(-19.5,-1.7),(-17.3,-2),(-15.1,-1.8),(-12.9,-2.1),(-10.7,-1.7),(-8.5,-2),(-6.3,-1.8),(-4.1,-2.2),(-1.9,-1.7),(0.3,-2),(2.5,-1.8),(4.7,-2.1),(6.9,-1.7),(9.1,-2),(11.3,-1.8),(13.5,-2.2),(15.7,-1.7),(17.9,-2),(20.1,-1.8),(22.3,-2.1),(24.5,-1.7),(26.7,-2),(28.9,-1.8),(31.1,-2.2),(33.3,-1.7),(35.5,-2),(37.7,-1.8),(39.9,-2.1),(42.1,-1.7),(44.3,-2),(46.5,-1.8),(48.7,-2.1),(49.9,-1.7),
(-49.3,-1.5),(-47.1,-2.4),(-44.8,-1.4),(-42.6,-2.5),(-40.4,-1.4),(-38.2,-2.4),(-36,-1.5),(-33.8,-2.5),(-31.6,-1.4),(-29.4,-2.4),(-27.2,-1.5),(-25,-2.5),(-22.8,-1.4),(-20.6,-2.4),(-18.4,-1.5),(-16.2,-2.5),(-14,-1.4),(-11.8,-2.4),(-9.6,-1.5),(-7.4,-2.5),(-5.2,-1.4),(-3,-2.4),(-0.8,-1.5),(1.4,-2.5),(3.6,-1.4),(5.8,-2.4),(8,-1.5),(10.2,-2.5),(12.4,-1.4),(14.6,-2.4),(16.8,-1.5),(19,-2.5),(21.2,-1.4),(23.4,-2.4),(25.6,-1.5),(27.8,-2.5),(30,-1.4),(32.2,-2.4),(34.4,-1.5),(36.6,-2.5),(38.8,-1.4),(41,-2.4),(43.2,-1.5),(45.4,-2.5),(47.6,-1.4),(49.6,-2.4),
(-48.7,-1.2),(-46.5,-2.3),(-44.3,-1.7),(-42.1,-1.2),(-39.9,-2.3),(-37.7,-1.3),(-35.5,-1.8),(-33.3,-1.2),(-31.1,-2.3),(-28.9,-1.3),(-26.7,-1.7),(-24.5,-1.2),(-22.3,-2.3),(-20.1,-1.3),(-17.9,-1.8),(-15.7,-1.2),(-13.5,-2.3),(-11.3,-1.3),(-9.1,-1.7),(-6.9,-1.2),(-4.7,-2.3),(-2.5,-1.3),(-0.3,-1.8),(1.9,-1.2),(4.1,-2.3),(6.3,-1.3),(8.5,-1.7),(10.7,-1.2),(12.9,-2.3),(15.1,-1.3),(17.3,-1.8),(19.5,-1.2),(21.7,-2.3),(23.9,-1.3),(26.1,-1.7),(28.3,-1.2),(30.5,-2.3),(32.7,-1.3),(34.9,-1.8),(37.1,-1.2),(39.3,-2.3),(41.5,-1.3),(43.7,-1.7),(45.9,-1.2),(48.1,-2.3),(49.7,-1.3)]
flank_density = 0.82

midplane = [(-49.6,1),(-47.4,0.7),(-45.2,1.1),(-43,0.6),(-40.8,0.9),(-38.6,0.5),(-36.4,1),(-34.2,0.7),(-32,1.1),(-29.8,0.6),(-27.6,0.9),(-25.4,0.5),(-23.2,1),(-21,0.7),(-18.8,1.1),(-16.6,0.6),(-14.4,0.9),(-12.2,0.5),(-10,1),(-7.8,0.7),(-5.6,1.1),(-3.4,0.6),(-1.2,0.9),(1,0.5),(3.2,1),(5.4,0.7),(7.6,1.1),(9.8,0.6),(12,0.9),(14.2,0.5),(16.4,1),(18.6,0.7),(20.8,1.1),(23,0.6),(25.2,0.9),(27.4,0.5),(29.6,1),(31.8,0.7),(34,1.1),(36.2,0.6),(38.4,0.9),(40.6,0.5),(42.8,1),(45,0.7),(47.2,1.1),(49.4,0.6),
(-48.6,-0.2),(-46.4,0.1),(-44.2,-0.3),(-42,0),(-39.8,-0.2),(-37.6,0.2),(-35.4,-0.3),(-33.2,0),(-31,-0.2),(-28.8,0.1),(-26.6,-0.3),(-24.4,0),(-22.2,-0.2),(-20,0.2),(-17.8,-0.3),(-15.6,0),(-13.4,-0.2),(-11.2,0.1),(-9,-0.3),(-6.8,0),(-4.6,-0.2),(-2.4,0.2),(-0.2,-0.3),(2,0),(4.2,-0.2),(6.4,0.1),(8.6,-0.3),(10.8,0),(13,-0.2),(15.2,0.2),(17.4,-0.3),(19.6,0),(21.8,-0.2),(24,0.1),(26.2,-0.3),(28.4,0),(30.6,-0.2),(32.8,0.2),(35,-0.3),(37.2,0),(39.4,-0.2),(41.6,0.1),(43.8,-0.3),(46,0),(48.2,-0.2),
(-49.4,-1),(-47.2,-0.8),(-45,-1.2),(-42.8,-0.9),(-40.6,-1.1),(-38.4,-0.7),(-36.2,-1.2),(-34,-0.9),(-31.8,-1),(-29.6,-0.7),(-27.4,-1.2),(-25.2,-0.9),(-23,-1.1),(-20.8,-0.7),(-18.6,-1.2),(-16.4,-0.9),(-14.2,-1),(-12,-0.7),(-9.8,-1.2),(-7.6,-0.9),(-5.4,-1.1),(-3.2,-0.7),(-1,-1.2),(1.2,-0.9),(3.4,-1),(5.6,-0.7),(7.8,-1.2),(10,-0.9),(12.2,-1.1),(14.4,-0.7),(16.6,-1.2),(18.8,-0.9),(21,-1),(23.2,-0.7),(25.4,-1.2),(27.6,-0.9),(29.8,-1.1),(32,-0.7),(34.2,-1.2),(36.4,-0.9),(38.6,-1),(40.8,-0.7),(43,-1.2),(45.2,-0.9),(47.4,-1.1),(49.6,-0.7),
(-49.9,0.2),(-47.6,-0.3),(-45.6,0.4),(-43.5,-0.5),(-41.3,0.3),(-39.1,-0.6),(-36.9,0.2),(-34.7,-0.5),(-32.5,0.4),(-30.3,-0.4),(-28.1,0.5),(-25.9,-0.5),(-23.7,0.3),(-21.5,-0.4),(-19.3,0.4),(-17.1,-0.5),(-14.9,0.3),(-12.7,-0.4),(-10.5,0.4),(-8.3,-0.5),(-6.1,0.3),(-3.9,-0.4),(-1.7,0.4),(0.5,-0.5),(2.7,0.3),(4.9,-0.4),(7.1,0.4),(9.3,-0.5),(11.5,0.3),(13.7,-0.4),(15.9,0.4),(18.1,-0.5),(20.3,0.3),(22.5,-0.4),(24.7,0.4),(26.9,-0.5),(29.1,0.3),(31.3,-0.4),(33.5,0.4),(35.7,-0.5),(37.9,0.3),(40.1,-0.4),(42.3,0.4),(44.5,-0.5),(46.7,0.3),(48.9,-0.4)]
midplane_density = 1.1

teal_patches = [(-47.8,1.4),(-43.6,1.2),(-40.1,0.8),(-36.8,1.3),(-33.6,-0.9),(-30.2,-1.3),(-29,0.4),(-26.4,-1.5),(-25.1,-0.5),(-22.8,0.4),(-21.5,-1.3),(-19.8,-0.7),(-17.5,-1.4),(-16.9,1),(-15.7,-0.9),(-13.6,-1.2),(-11.4,-0.5),(-10.2,0.9),(-9.3,-1.6),(-7.4,-0.6),(-5.8,1.2),(-3.1,-0.7),(-2.4,1.1),(-0.6,-1.2),(1.4,0.8),(2.8,-0.5),(4.6,-1),(7,1.4),(8.4,-0.9),(10,-1.4),(11.2,1.3),(14.4,1.1),(15.8,-0.4),(17.4,1.4),(20,-1.1),(22.4,-1),(24.1,1),(26.5,0.8),(27.6,-0.6),(29,-1.4),(31.5,0.4),(33.4,1.1),(36,0.2),(38,1.4),(39.6,-0.4),(41.6,0.9),(44.4,-1),(46.6,1.3),(48.8,-0.5)]
teal_density = 1.35

green_patches = [(-32.1,-1.4),(-28.7,-1.6),(-26.1,-1.1),(-23.2,-1.1),(-18.7,-1.4),(-17.2,-0.4),(-11.8,0.9),(-9.8,-0.8),(-6.4,-0.2),(-1.9,0.8),(1.8,0.5),(4.4,1.5),(5.8,1.3),(7.7,0.3),(10,-1.4),(16.4,0.4),(18.8,0.9),(23,-0.3),(26.7,-0.9),(28.9,0.5),(30,-1.6),(37.1,0.5),(37.8,0)]
green_density = 1.7

lime_patches = [(-27.6,-0.5),(-24.5,0.8),(-21.1,1),(-20.6,0.1),(-19.9,1.1),(-16.1,0.3),(-15,0.8),(-14.8,0.1),(-14.3,-0.9),(-14.1,0.3),(-13.6,0.6),(-13.3,0.8),(-13.1,0),(-12.6,0.4),(-8.5,0.8),(-8.1,0.3),(-8.4,0.5),(-8.9,-0.1),(-5.7,-0.9),(5.3,0.2),(6.2,0.1),(8,0.1),(21.7,0.9),(21.8,1),(19.6,0.3),(26.2,-1.6),(26.7,-0.6),(30.4,1),(30,-1.6),(25.6,-0.6)]
lime_density = 2.1

yellow_patches = [(12.8,0.3),(13.3,0.2),(19.5,0.5),(25.5,-0.5),(-20.6,0.1),(-4.9,0.4),(-16.3,0.2)]
yellow_density = 2.42

dim_overlays = [(-46.9,2.4),(-44.2,0.7),(-41.3,1.6),(-38.4,-0.9),(-36.3,-3.2),(-34.5,2.1),(-30.7,-2.8),(-27.1,-3.2),(-22.7,-3.4),(-20.1,-3.1),(-14.4,-4.2),(-8.9,-3.6),(-4.2,2.3),(-0.7,-3.9),(3.6,2.2),(6.9,-2.7),(11.5,-3.3),(13.5,-1.7),(15.9,2.6),(20.5,-2.1),(24.3,-2.6),(27.4,-1.8),(31.8,-2.3),(35.4,2.2),(39.1,-1.9),(42.6,-3.2),(47.3,-2.6),(43.4,2.1),(25.2,-2)]
dim_density = 0.55

dark_overlays = [(-32.2,2.6),(-48,1.4),(-42.8,3.9),(-26,1.3),(-24.7,1.3),(-24.2,-0.5),(-33.1,0.3),(-32.1,0.9),(-49,3.7),(-46.3,-0.4),(-46.4,-1),(-45.7,-4.5),(-29.1,-4.4),(-24.2,-0.9),(-34.5,-0.3),(-17.5,-2.6),(-41,-2.8),(-40.5,7.5),(-27.6,-0.1),(-49.3,8.7),(-10.4,5.2),(-6.9,4.1),(-3.1,0.5),(0.7,1.5),(8.6,2),(-16.1,2.5),(-9.5,2.3),(4.5,0.5),(-16.1,6.7),(-4.1,6.6),(6.5,8),(13.4,5.1),(-11.7,-0.7),(-4.6,-1.1),(-1,-1.4),(-5,-4.6),(-4.4,-6.1),(7,-6.6),(7.2,-6.4),(14.6,-3.5),(9.2,-2.3),(4.5,-0.2),(-16.9,-2.8),(13.3,-7.1),(13.6,-7),(16,-6.4),(16.2,-6.6),(15.9,-7.6),(-3.5,-9.2),(-3.3,-9),(28.4,4.5),(26.9,2.6),(43.4,4.6),(41.8,1.5),(45.1,0.1),(22.5,2.2),(18,0.1),(19.7,-0.2),(46.2,2.9),(40.4,9.4),(33.8,-2.4),(35.7,-3.3),(30.7,-3.9),(37.6,-5.5),(45.1,-3.9),(41.7,-6.9),(45.1,0),(17.3,-0.3),(19.7,-0.4),(16.6,-6.6),(-12.5,-0.1),(-6.5,-0.9),(6.4,0.6),(10.3,-2.7),(28.2,-1.1)]
dark_density = 0.02

# Drawing order runs from the faint halo to the bright midplane, with overlays last.
point_groups = [
    (halo_upper_left, halo_density), (halo_upper_mid, halo_density), (halo_upper_right, halo_density),
    (halo_lower_left, halo_density), (halo_lower_mid, halo_density), (halo_lower_right, halo_density),
    (outer_rim, outer_rim_density), (upper_rim, rim_density), (lower_rim, rim_density),
    (upper_shell, shell_density), (lower_shell, shell_density),
    (upper_slope, slope_density), (lower_slope, slope_density),
    (upper_flank, flank_density), (lower_flank, flank_density),
    (midplane, midplane_density), (teal_patches, teal_density), (green_patches, green_density),
    (lime_patches, lime_density), (yellow_patches, yellow_density),
    (dim_overlays, dim_density), (dark_overlays, dark_density),
]

xs, zs, rho = [], [], []
for pts, d in point_groups:
    for px, pz in pts:
        xs.append(px)
        zs.append(pz)
        rho.append(d)

x_ticks = [-40, -20, 0, 20, 40]
z_ticks = [-20, -10, 0, 10, 20]
cbar_ticks = [0.5, 1.0, 1.5, 2.0, 2.5]
RHO_MIN, RHO_MAX = 0.005, 2.5
FONT = "DejaVu Sans"
FS = 41

n = len(sequential.Viridis) - 1
# Half-transparent viridis for fills and edges; edge over fill gives the darker ring.
alpha_scale = [[i / n, "rgba(%d,%d,%d,0.5)" % hex_to_rgb(c)] for i, c in enumerate(sequential.Viridis)]

# Colorbars ignore alpha, so the bar composites viridis on white in fine alternating bands.
bar_scale = []
BAR_STEPS = 127
for i in range(BAR_STEPS + 1):
    t = i / BAR_STEPS
    r, g, b = unlabel_rgb(sample_colorscale("Viridis", [t])[0])
    a = 0.56 if i % 2 else 0.68
    bar_scale.append([t, "rgb(%d,%d,%d)" % tuple(round(a * v + (1 - a) * 255) for v in (r, g, b))])

label_font = dict(family=FONT, size=FS, color="black")

fig = go.Figure()
fig.add_trace(go.Scatter(
    x=xs, y=zs, mode="markers", showlegend=False, hoverinfo="skip",
    marker=dict(
        size=24.4, color=rho, colorscale=alpha_scale, cmin=RHO_MIN, cmax=RHO_MAX, showscale=False,
        line=dict(width=3.3, color=rho, colorscale=alpha_scale, cmin=RHO_MIN, cmax=RHO_MAX),
    ),
))
# Marker-less trace that only carries the colour bar.
fig.add_trace(go.Scatter(
    x=[None], y=[None], mode="markers", showlegend=False, hoverinfo="skip",
    marker=dict(
        color=[RHO_MIN], colorscale=bar_scale, cmin=RHO_MIN, cmax=RHO_MAX, showscale=True,
        colorbar=dict(
            x=1.0195, xanchor="left", xpad=0, y=0, yanchor="bottom", ypad=0, len=1, lenmode="fraction",
            thickness=71, thicknessmode="pixels", outlinewidth=3, outlinecolor="black",
            tickmode="array", tickvals=cbar_ticks, ticktext=["0.5", "1.0", "1.5", "2.0", "2.5"],
            ticks="outside", ticklen=14, tickwidth=3, tickcolor="black",
            tickfont=label_font,
            title=dict(text="density [g/cm³]", side="right", font=label_font),
        ),
    ),
))

axis_style = dict(
    showline=True, linecolor="black", linewidth=3, mirror=True, showgrid=False, zeroline=False,
    ticks="outside", ticklen=14, tickwidth=3, tickcolor="black", layer="above traces",
    tickfont=label_font,
)
fig.update_xaxes(range=[-50, 50], tickmode="array", tickvals=x_ticks,
                 title=dict(text="x [au]", font=label_font, standoff=16), **axis_style)
fig.update_yaxes(range=[-20, 20], tickmode="array", tickvals=z_ticks,
                 title=dict(text="z [au]", font=label_font, standoff=18), **axis_style)
fig.update_layout(
    width=1873, height=785, autosize=False, paper_bgcolor="white", plot_bgcolor="white",
    margin=dict(l=205, r=279, t=73, b=156),
    annotations=[dict(text="1e−15", xref="paper", yref="paper", x=1.0677, y=1.0, xanchor="right", yanchor="bottom",
                      showarrow=False, font=label_font)],
)
fig.write_html("out.html")
